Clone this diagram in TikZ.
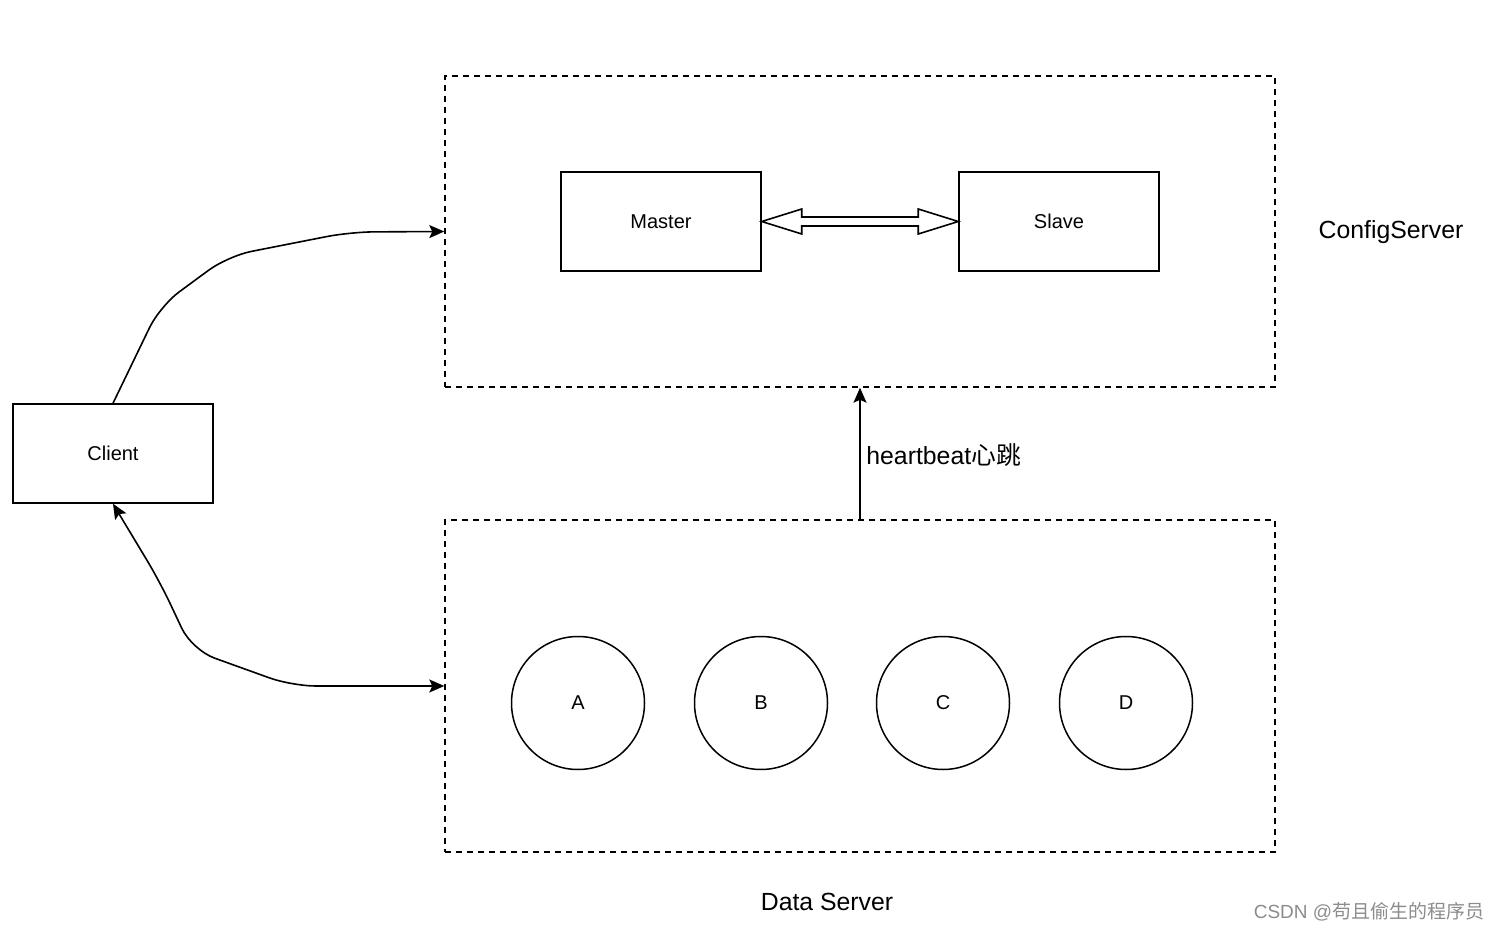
\documentclass[tikz,border=0pt]{standalone}
\usepackage{fontspec}
\setmainfont{Liberation Sans}
\newfontfamily\cjk{Noto Sans CJK SC}
\usetikzlibrary{arrows.meta,calc}
\begin{document}
\begin{tikzpicture}[x=0.5pt,y=-0.5pt,
  box/.style={draw,line width=0.75pt,minimum width=100pt,minimum height=49.5pt,inner sep=0pt,font=\fontsize{10}{12}\selectfont},
  group/.style={draw,dashed,dash pattern=on 3pt off 2.5pt,line width=0.7pt,inner sep=0pt},
  circ/.style={draw,circle,line width=0.75pt,minimum size=66.5pt,inner sep=0pt,font=\fontsize{10}{12}\selectfont},
  conn/.style={line width=0.8pt},
  tip/.style={-{Stealth[length=7.5pt,width=6.5pt,inset=1.5pt]}},
  lbl/.style={font=\fontsize{12.4}{14}\selectfont}]
\useasboundingbox (0,0) rectangle (1500,931);
\fill[white] (0,0) rectangle (1500,931);
% groups
\node[group,minimum width=415pt,minimum height=155.5pt] (cfg) at (860,231.5) {};
\node[group,minimum width=415pt,minimum height=166pt] (data) at (860,686) {};
% nodes
\node[box] (master) at (661,221.5) {Master};
\node[box] (slave) at (1059,221.5) {Slave};
\node[box] (client) at (113,453.5) {Client};
\node[circ] (A) at (578,703) {A};
\node[circ] (B) at (761,703) {B};
\node[circ] (C) at (943,703) {C};
\node[circ] (D) at (1126,703) {D};
% labels
\node[lbl] (cfglbl) at (1391,232) {ConfigServer};
\node[lbl] (datalbl) at (827,902) {Data Server};
\node[lbl,anchor=west,inner sep=0pt] (hb) at (866,455) {heartbeat{\cjk 心跳}};
\node[text=black!45,font=\fontsize{9.5}{11}\selectfont] (wm) at (1369,912) {CSDN @{\cjk 苟且偷生的程序员}};
% double hollow arrow
\draw[conn,line join=miter,fill=white]
  (master.east) -- ++(40,-12.5) -- ++(0,8) -- ($(slave.west)+(-40,-4.5)$) -- ++(0,-8) -- (slave.west)
  -- ++(-40,12.5) -- ++(0,-8) -- ($(master.east)+(40,4.5)$) -- ++(0,8) -- cycle;
% heartbeat
\draw[conn,tip] (data.north) -- (cfg.south);
% client connectors
\draw[conn,tip,rounded corners=12pt] (client.north) -- (160,306) -- (228,256) -- (350,232) -- (cfg.west);
\draw[conn,{Stealth[length=7.5pt,width=6.5pt,inset=1.5pt]}-{Stealth[length=7.5pt,width=6.5pt,inset=1.5pt]},rounded corners=12pt]
  (client.south) -- (160,582) -- (192,650) -- (292,686) -- (data.west);
\end{tikzpicture}
\end{document}
